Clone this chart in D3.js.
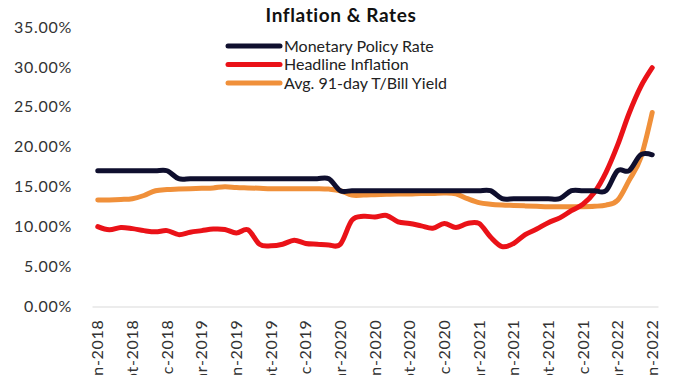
<!DOCTYPE html>
<html>
<head>
<meta charset="utf-8">
<script src="https://cdn.jsdelivr.net/npm/d3@7"></script>
<style>
  body { margin: 0; background: #fff; }
  text { font-family: Lato, "Open Sans", sans-serif; }
</style>
</head>
<body>
<div id="chart"></div>
<script>
// months shown on the category axis, one point per month
const months = [
  "Jun-2018", "Jul-2018", "Aug-2018", "Sept-2018", "Oct-2018", "Nov-2018", "Dec-2018",
  "Jan-2019", "Feb-2019", "Mar-2019", "Apr-2019", "May-2019", "Jun-2019", "Jul-2019",
  "Aug-2019", "Sept-2019", "Oct-2019", "Nov-2019", "Dec-2019",
  "Jan-2020", "Feb-2020", "Mar-2020", "Apr-2020", "May-2020", "Jun-2020", "Jul-2020",
  "Aug-2020", "Sept-2020", "Oct-2020", "Nov-2020", "Dec-2020",
  "Jan-2021", "Feb-2021", "Mar-2021", "Apr-2021", "May-2021", "Jun-2021", "Jul-2021",
  "Aug-2021", "Sept-2021", "Oct-2021", "Nov-2021", "Dec-2021",
  "Jan-2022", "Feb-2022", "Mar-2022", "Apr-2022", "May-2022", "Jun-2022"
]
// only every third month gets a label
const tickLabels = [
  "Jun-2018", "Sept-2018", "Dec-2018", "Mar-2019", "Jun-2019", "Sept-2019", "Dec-2019",
  "Mar-2020", "Jun-2020", "Sept-2020", "Dec-2020", "Mar-2021", "Jun-2021", "Sept-2021",
  "Dec-2021", "Mar-2022", "Jun-2022"
]
const yTicks = [0, 0.05, 0.10, 0.15, 0.20, 0.25, 0.30, 0.35]

// values in percent
const policyRate = [
  17, 17, 17, 17, 17, 17, 17,
  16, 16, 16, 16, 16, 16, 16, 16, 16, 16, 16, 16, 16, 16,
  14.5, 14.5, 14.5, 14.5, 14.5, 14.5, 14.5, 14.5, 14.5, 14.5, 14.5, 14.5, 14.5, 14.5,
  13.5, 13.5, 13.5, 13.5, 13.5, 13.5,
  14.5, 14.5, 14.5, 14.5,
  17, 17, 19, 19
]
const inflation = [
  10.0, 9.6, 9.9, 9.75, 9.5, 9.35, 9.5,
  9.0, 9.3, 9.5, 9.7, 9.65, 9.2, 9.6, 7.8, 7.6, 7.8, 8.3, 7.9,
  7.8, 7.7, 7.8, 10.8, 11.3, 11.2, 11.4, 10.6, 10.4, 10.1, 9.8, 10.4,
  9.9, 10.4, 10.4, 8.7, 7.5, 7.9, 9.0, 9.7, 10.5, 11.1, 12.0, 12.8,
  14.3, 16.8, 20.2, 24.2, 27.5, 29.9
]
const tbillYield = [
  13.35, 13.35, 13.4, 13.5, 13.9, 14.5, 14.65,
  14.7, 14.75, 14.8, 14.85, 15.0, 14.9, 14.85, 14.8, 14.75, 14.75, 14.75, 14.75,
  14.75, 14.7, 14.5, 13.95, 13.95, 14.0, 14.05, 14.1, 14.1, 14.15, 14.15, 14.2,
  14.1, 13.5, 13.0, 12.8, 12.7, 12.65, 12.6, 12.55, 12.5, 12.5, 12.5, 12.5,
  12.55, 12.7, 13.3, 15.8, 18.6, 24.3
]

const seriesNames = ["Monetary Policy Rate", "Headline Inflation", "Avg. 91-day T/Bill Yield"]
const seriesValues = [policyRate, inflation, tbillYield]
const colors = ["#0f0f2e", "#ea1218", "#f0903a"]

const width = 696
const height = 375

const svg = d3.select("#chart")
  .append("svg")
  .attr("width", width)
  .attr("height", height)

const xPositionScale = d3.scaleBand().domain(months).range([92, 658]).padding(0)
const yPositionScale = d3.scaleLinear().domain([0, 0.35]).range([306.5, 27])

// title
svg.append("text")
  .attr("x", 341)
  .attr("y", 22)
  .attr("text-anchor", "middle")
  .attr("font-size", "19px")
  .attr("font-weight", "bold")
  .attr("letter-spacing", "0.6px")
  .attr("fill", "#111")
  .text("Inflation & Rates")

// y axis, labels only
const yAxis = d3.axisLeft(yPositionScale)
  .tickValues(yTicks)
  .tickFormat(d3.format(".2%"))
  .tickSize(0)
  .tickPadding(0)
svg.append("g")
  .attr("transform", "translate(72,0)")
  .call(yAxis)
  .call(g => g.select(".domain").remove())
  .selectAll("text")
  .attr("font-size", "16px")
  .attr("letter-spacing", "0.7px")
  .attr("font-family", "Lato, sans-serif")
  .attr("fill", "#333")

// x axis along zero, labels rotated (cut by the bottom edge, as in the original)
const xAxis = d3.axisBottom(xPositionScale)
  .tickValues(tickLabels)
  .tickSize(0)
  .tickPadding(0)
const xg = svg.append("g")
  .attr("transform", "translate(0," + yPositionScale(0) + ")")
  .call(xAxis)
xg.select(".domain").attr("stroke", "#d9d9d9").attr("stroke-width", 1.2)
xg.selectAll("text")
  .attr("font-size", "16px")
  .attr("letter-spacing", "0.7px")
  .attr("font-family", "Lato, sans-serif")
  .attr("fill", "#333")
  .attr("text-anchor", "end")
  .attr("dy", "0.35em")
  .attr("transform", "translate(0,13) rotate(-90)")
  .attr("y", 0)

const line = d3.line()
  .x((d, i) => xPositionScale(months[i]) + xPositionScale.bandwidth() / 2)
  .y(d => yPositionScale(d / 100))
  .curve(d3.curveCardinal)

// draw orange first, then red, then the policy rate on top
const order = [2, 1, 0]
order.forEach(k => {
  svg.append("path")
    .datum(seriesValues[k])
    .attr("d", line)
    .attr("fill", "none")
    .attr("stroke", colors[k])
    .attr("stroke-width", 5)
    .attr("stroke-linecap", "round")
    .attr("stroke-linejoin", "round")
})

// legend
const legend = svg.append("g").attr("transform", "translate(228,46)")
seriesNames.forEach((name, i) => {
  legend.append("line")
    .attr("x1", 0)
    .attr("x2", 52)
    .attr("y1", i * 18.5)
    .attr("y2", i * 18.5)
    .attr("stroke", colors[i])
    .attr("stroke-width", 5)
    .attr("stroke-linecap", "round")
  legend.append("text")
    .attr("x", 56)
    .attr("y", i * 18.5)
    .attr("dy", "0.35em")
    .attr("font-size", "16px")
    .attr("fill", "#222")
    .text(name)
})
</script>
</body>
</html>
